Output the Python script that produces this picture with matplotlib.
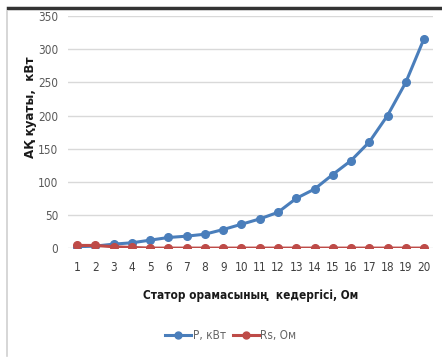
import matplotlib.pyplot as plt
from matplotlib.lines import Line2D

# статор кедергісі (категориялар) және өлшенген мәндер
rs_steps = list(range(1, 21))
p_kw = [2, 3, 6, 8, 12, 16, 18, 21, 28, 36, 44, 54, 75, 89, 111, 132, 160, 200, 250, 316]
rs_ohm = [4, 4, 2, 1, 0, 0, 0, 0, 0, 0, 0, 0, 0, 0, 0, 0, 0, 0, 0, 0]
y_ticks = [0, 50, 100, 150, 200, 250, 300, 350]

blue = '#4a7ebb'
red = '#be4b48'
font = dict(family='DejaVu Sans', stretch='condensed')

fig = plt.figure(figsize=(4.42, 3.58), dpi=100)
ax = fig.add_axes([0.154, 0.307, 0.826, 0.648])

ax.plot(rs_steps, p_kw, color=blue, lw=2.2, marker='o', ms=5.5, label='P, кВт', zorder=3)
ax.plot(rs_steps, rs_ohm, color=red, lw=2.2, marker='o', ms=5.5, label='Rs, Ом', zorder=4)

ax.set_xlim(0.5, 20.5)
ax.set_ylim(0, 350)
ax.set_xticks(rs_steps)
ax.set_xticklabels([str(v) for v in rs_steps], fontsize=8.5, color='#404040', **font)
ax.set_yticks(y_ticks)
ax.set_yticklabels([str(v) for v in y_ticks], fontsize=8.5, color='#595959', **font)
ax.tick_params(length=0, pad=7)
ax.tick_params(axis='x', pad=9)
ax.grid(axis='y', color='#d9d9d9', lw=1)
ax.set_axisbelow(True)
for s in ax.spines.values():
    s.set_visible(False)

ax.set_xlabel('Статор орамасының  кедергісі, Ом', fontsize=8.5, fontweight='bold',
              color='#1a1a1a', **font)
ax.xaxis.set_label_coords(0.5, -0.175)
ax.set_ylabel('АҚ қуаты,  кВт', fontsize=9.5, fontweight='bold', color='#1a1a1a', **font)
ax.yaxis.set_label_coords(-0.085, 0.606)

handles = [Line2D([], [], color=blue, lw=2.2, marker='o', ms=5),
           Line2D([], [], color=red, lw=2.2, marker='o', ms=5)]
fig.legend(handles, ['P, кВт', 'Rs, Ом'], loc='center', bbox_to_anchor=(0.522, 0.062),
           ncol=2, frameon=False, prop={**font, 'size': 8.5},
           labelcolor='#666666', handlelength=2.2, handletextpad=0.1, columnspacing=0.6)

# рамка: жоғарғы қара сызық және сол жақ сұр шет
fig.add_artist(Line2D([0.018, 1.0], [0.978, 0.978], color='#333333', lw=2.5,
                      transform=fig.transFigure))
fig.add_artist(Line2D([0.016, 0.016], [0.005, 0.97], color='#d0d0d0', lw=1.2,
                      transform=fig.transFigure))

fig.savefig('out.png', dpi=100)
